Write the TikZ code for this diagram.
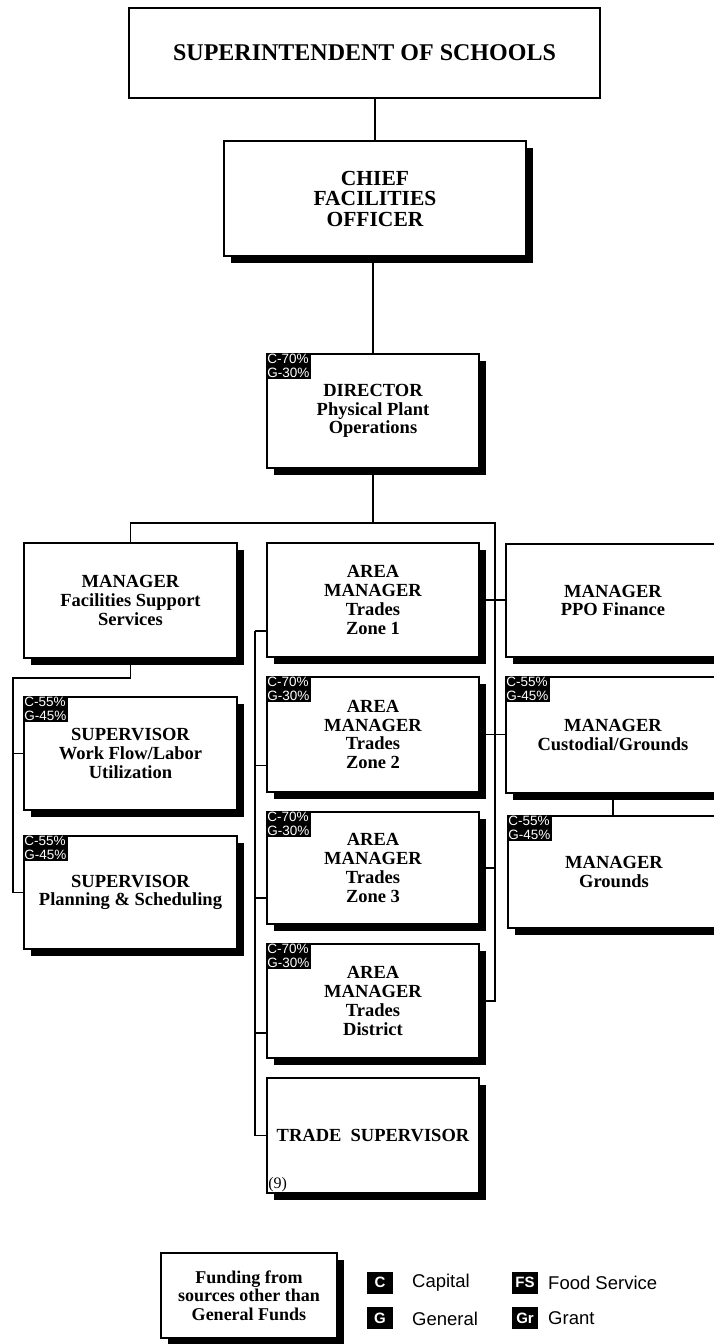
\documentclass[tikz,border=0pt]{standalone}
\usepackage{fontspec}
\setmainfont{Liberation Serif}
\newfontfamily\sansf{Liberation Sans}
\usetikzlibrary{shadows}
\begin{document}
\begin{tikzpicture}[x=1pt,y=-1pt,
  plain/.style={draw, line width=1.9pt, fill=white, align=center, inner sep=0pt},
  box/.style={plain, minimum width=213pt, minimum height=115pt,
    font=\bfseries\fontsize{18.5}{18.8}\selectfont,
    drop shadow={shadow xshift=7pt, shadow yshift=-7pt, fill=black, opacity=1}},
  tag/.style={fill=black, text=white, font=\sansf\fontsize{13.5}{13.8}\selectfont,
    align=left, inner sep=1.2pt, anchor=north west},
  conn/.style={line width=1.9pt},
  lsq/.style={fill=black, text=white, font=\sansf\bfseries\fontsize{15}{15}\selectfont,
    minimum width=26pt, minimum height=22pt, inner sep=0pt},
  ltxt/.style={anchor=west, inner sep=0pt, font=\sansf\fontsize{18.5}{18.5}\selectfont}
]
\useasboundingbox (0,0) rectangle (714,1344);
\clip (0,0) rectangle (714,1344);

% top
\node[plain, minimum width=471pt, minimum height=90pt,
  font=\bfseries\fontsize{24}{24}\selectfont] (super) at (364.5,53) {SUPERINTENDENT OF SCHOOLS};
\node[box, minimum width=302pt, minimum height=115pt,
  font=\bfseries\fontsize{21.5}{20.5}\selectfont] (chief) at (375,198.5) {CHIEF\\FACILITIES\\OFFICER};
\node[box, minimum width=212pt, minimum height=114pt] (dir) at (373,411) {DIRECTOR\\Physical Plant\\Operations};
\node[tag] (tdir) at (dir.north west) {C-70\%\\G-30\%};

% left column
\node[box] (fss) at (130.5,600.5) {MANAGER\\Facilities Support\\Services};
\node[box, minimum height=113pt] (wfl) at (130.5,753.5) {SUPERVISOR\\Work Flow/Labor\\Utilization};
\node[tag] (twfl) at (wfl.north west) {C-55\%\\G-45\%};
\node[box, minimum height=113pt] (ps) at (130.5,892.5) {SUPERVISOR\\Planning \& Scheduling};
\node[tag] (tps) at (ps.north west) {C-55\%\\G-45\%};

% middle column
\node[box, minimum width=212pt, minimum height=114pt] (z1) at (373,600) {AREA\\MANAGER\\Trades\\Zone 1};
\node[box, minimum width=212pt, minimum height=115pt] (z2) at (373,734.5) {AREA\\MANAGER\\Trades\\Zone 2};
\node[tag] (tz2) at (z2.north west) {C-70\%\\G-30\%};
\node[box, minimum width=212pt, minimum height=112pt] (z3) at (373,868) {AREA\\MANAGER\\Trades\\Zone 3};
\node[tag] (tz3) at (z3.north west) {C-70\%\\G-30\%};
\node[box, minimum width=212pt, minimum height=114pt] (zd) at (373,1001) {AREA\\MANAGER\\Trades\\District};
\node[tag] (tzd) at (zd.north west) {C-70\%\\G-30\%};
\node[box, minimum width=212pt, minimum height=115pt] (ts) at (373,1135.5) {TRADE\ \ SUPERVISOR};
\node[anchor=south west, inner sep=2pt, font=\fontsize{16}{16}\selectfont] (nine) at (ts.south west) {(9)};

% right column
\node[box, minimum width=214pt, minimum height=113pt] (ppo) at (613,600.5) {MANAGER\\PPO Finance};
\node[box, minimum width=214pt, minimum height=116pt] (cust) at (613,735) {MANAGER\\Custodial/Grounds};
\node[tag] (tcust) at (cust.north west) {C-55\%\\G-45\%};
\node[box, minimum width=212pt, minimum height=112pt] (gr) at (614,872) {MANAGER\\Grounds};
\node[tag] (tgr) at (gr.north west) {C-55\%\\G-45\%};

% connectors
\draw[conn] (chief.north) -- (chief.north |- super.south);
\draw[conn] (dir.north) -- (dir.north |- chief.south);
\coordinate (busL) at (130,523);
\coordinate (busR) at (495,523);
\draw[conn] (dir.south) -- (dir.south |- busL);
\draw[conn] (fss.north) -- (fss.north |- busL) -- (busR) -- (busR |- zd.east) -- (zd.east);
\draw[conn] (z1.east) -- (z1.east -| ppo.west);
\draw[conn] (z2.east) -- (z2.east -| cust.west);
\draw[conn] (z3.east) -- (z3.east -| busR);
\draw[conn] (cust.south) -- (cust.south |- gr.north);

\coordinate (lc) at (13,678);
\draw[conn] (fss.south) -- (fss.south |- lc) -- (lc) -- (lc |- ps.west) -- (ps.west);
\draw[conn] (lc |- wfl.west) -- (wfl.west);

\coordinate (ml) at (255,631);
\draw[conn] (ml) -- (ml -| z1.west);
\draw[conn] (ml) -- (ml |- ts.west) -- (ts.west);
\coordinate (b2) at ([yshift=-31pt]z2.west);
\coordinate (b3) at ([yshift=-30pt]z3.west);
\coordinate (b4) at ([yshift=-32pt]zd.west);
\draw[conn] (b2) -- (b2 -| ml);
\draw[conn] (b3) -- (b3 -| ml);
\draw[conn] (b4) -- (b4 -| ml);

% legend
\node[box, minimum width=176pt, minimum height=85pt,
  font=\bfseries\fontsize{18}{18.3}\selectfont] (leg) at (249,1295.5) {Funding from\\sources other than\\General Funds};
\node[lsq] (kc) at (380,1282.5) {C};
\node[lsq] (kg) at (380,1318) {G};
\node[lsq] (kfs) at (525,1282.5) {FS};
\node[lsq] (kgr) at (525,1318) {Gr};
\node[ltxt] (lcap) at (412,1283) {Capital};
\node[ltxt] (lgen) at (412,1318.5) {General};
\node[ltxt] (lfs) at (548,1283) {Food Service};
\node[ltxt] (lgr) at (548,1318.5) {Grant};
\end{tikzpicture}
\end{document}
